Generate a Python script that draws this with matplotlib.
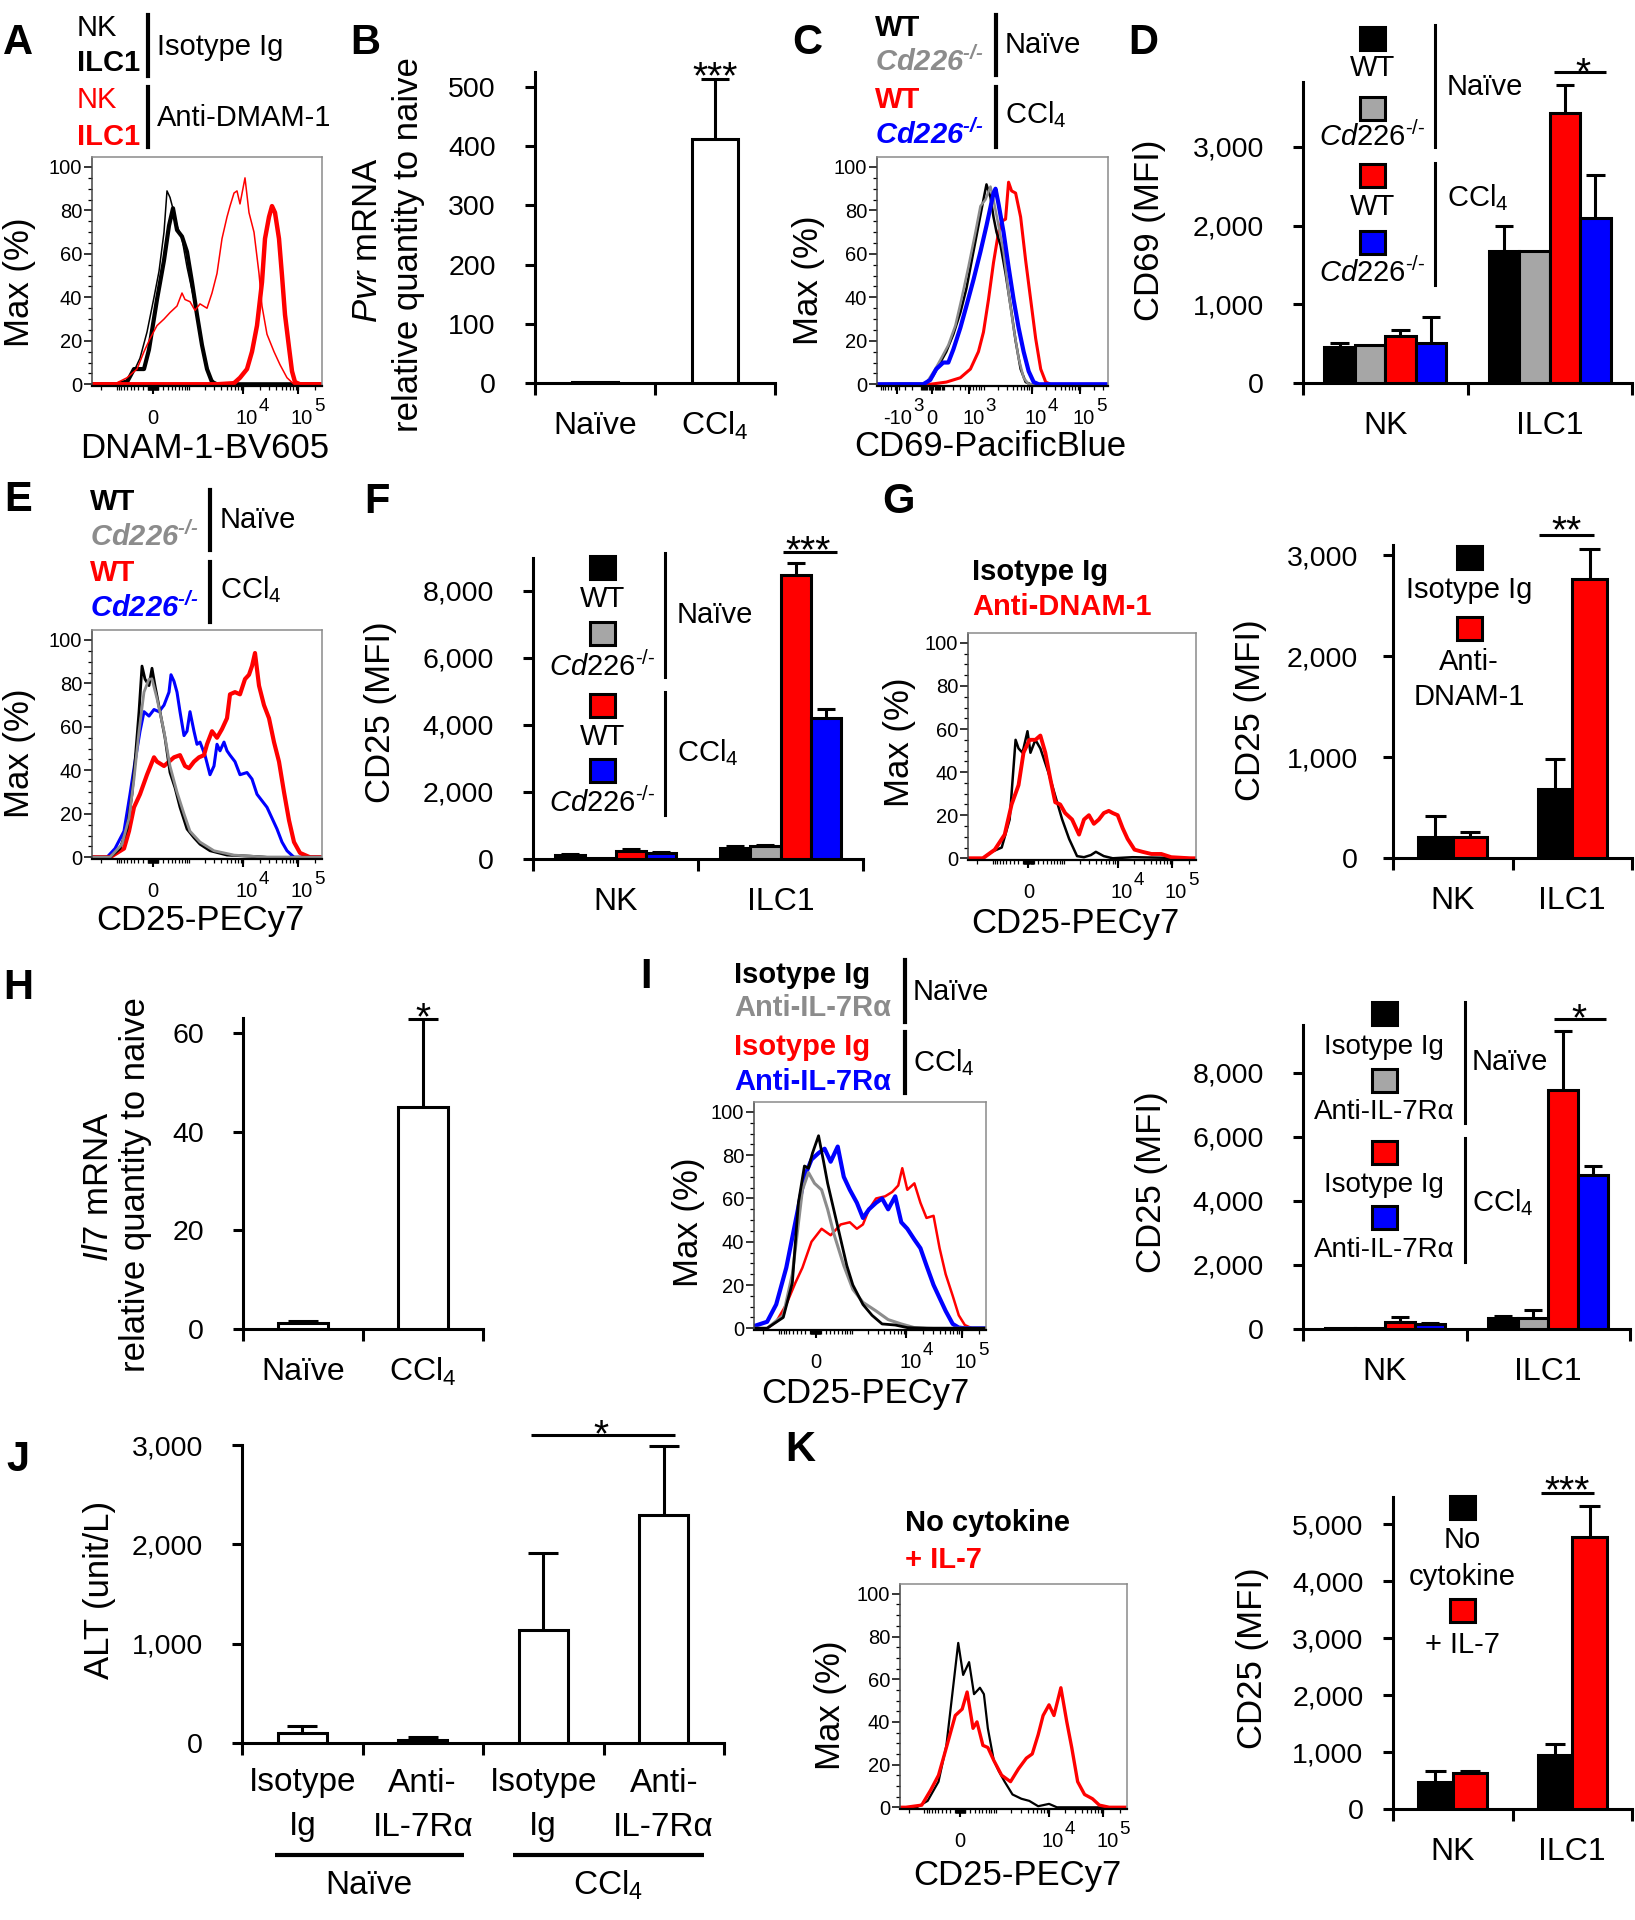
"""
Figure: DNAM-1 / IL-7 driven CD25 expression on liver ILC1 (panels A-K).
Histograms are drawn on a logicle-like display axis (channel 0-230),
bar charts are mean + SEM.
"""
import numpy as np
import matplotlib
matplotlib.use("Agg")
import matplotlib.pyplot as plt
from matplotlib.patches import Rectangle
from matplotlib.lines import Line2D
from matplotlib.ticker import MultipleLocator
from matplotlib.transforms import offset_copy

plt.rcParams.update({
    "font.family": "Liberation Sans",
    "mathtext.fontset": "custom",
    "mathtext.rm": "Liberation Sans",
    "mathtext.it": "Liberation Sans:italic",
    "mathtext.bf": "Liberation Sans:bold",
    "mathtext.bfit": "Liberation Sans:bold:italic",
})

W, H = 1635, 1920
RED, BLUE = "#ff0000", "#0000ff"
GRAY_BAR, GRAY_LINE = "#a6a6a6", "#8c8c8c"
CD226 = r"$\mathit{Cd226}^{\mathit{‐/‐}}$"
CD226_B = r"$\mathbfit{Cd226}^{\mathbfit{‐/‐}}$"
CCL4 = "CCl$_4$"

# ------------------------------------------------------------------
# Histogram data (x = display channel, y = % of max)
# ------------------------------------------------------------------
STD_MAJOR = [61, 151, 206]
STD_LABELS = [("0", None), ("10", "4"), ("10", "5")]

A_X_NK_ISO = [0, 22, 35, 43, 48, 55, 62, 67, 72, 75, 78, 82, 85, 90, 95, 102, 108, 113, 118, 125, 230]
A_Y_NK_ISO = [0, 0, 2, 7, 12, 24, 40, 52, 70, 89, 86, 79, 73, 67, 54, 39, 24, 12, 3, 0, 0]
A_X_ILC1_ISO = [0, 25, 35, 42, 52, 57, 65, 72, 77, 81, 85, 90, 95, 100, 105, 110, 115, 120, 125, 230]
A_Y_ILC1_ISO = [0, 0, 1, 7, 7, 16, 39, 57, 73, 81, 71, 68, 61, 47, 32, 18, 7, 1, 0, 0]
A_X_NK_ANTI = [0, 22, 35, 45, 52, 58, 65, 72, 78, 85, 90, 93, 98, 103, 108, 115, 120, 125, 130,
               135, 138, 142, 145, 148, 153, 157, 162, 167, 170, 175, 182, 188, 195, 202, 230]
A_Y_NK_ANTI = [0, 0, 3, 7, 15, 21, 27, 30, 33, 36, 42, 39, 38, 34, 37, 35, 42, 51, 67,
               77, 82, 88, 89, 83, 95, 79, 70, 51, 36, 23, 15, 9, 3, 0, 0]
A_X_ILC1_ANTI = [0, 125, 142, 148, 155, 160, 165, 170, 173, 177, 180, 183, 187, 190, 193, 197, 200, 203, 208, 230]
A_Y_ILC1_ANTI = [0, 0, 0.5, 3, 7, 15, 27, 47, 67, 77, 82, 79, 67, 50, 32, 17, 6, 1, 0, 0]

C_MAJOR = [20, 55, 92, 154, 202]
C_LABELS = [("-10", "3"), ("0", None), ("10", "3"), ("10", "4"), ("10", "5")]
C_X_WT_N = [0, 49, 56, 63, 69, 76, 83, 89, 96, 101, 106, 109, 113, 116, 119, 123, 128, 133, 138, 143, 148, 153, 230]
C_Y_WT_N = [0, 0.5, 4, 10, 15, 23, 33, 44, 61, 73, 85, 92, 86, 77, 70, 64, 51, 36, 20, 7, 1, 0, 0]
C_X_KO_N = [0, 49, 58, 64, 71, 78, 84, 91, 98, 103, 108, 113, 116, 121, 126, 131, 136, 141, 146, 151, 230]
C_Y_KO_N = [0, 0.5, 7, 12, 18, 27, 39, 54, 70, 82, 85, 91, 85, 73, 61, 42, 26, 12, 3, 0, 0]
C_X_KO_C = [0, 46, 53, 59, 66, 71, 76, 83, 89, 96, 103, 109, 116, 118, 121, 126, 131, 136, 141, 146, 151, 156, 161, 230]
C_Y_KO_C = [0, 0, 2, 7, 10, 10, 16, 26, 36, 48, 61, 73, 88, 90, 83, 70, 54, 39, 26, 15, 6, 1, 0, 0]
C_X_WT_C = [0, 53, 69, 83, 93, 101, 106, 111, 116, 121, 124, 128, 131, 134, 138, 143, 148, 153, 158, 163, 168, 173, 230]
C_Y_WT_C = [0, 0, 1, 3, 7, 15, 24, 39, 56, 70, 75, 76, 93, 89, 88, 77, 57, 39, 21, 7, 1, 0, 0]

E_X_WT_N = [0, 18, 28, 35, 40, 43, 47, 50, 53, 57, 60, 63, 68, 73, 78, 83, 88, 95, 102, 108, 118, 135, 158, 175, 230]
E_Y_WT_N = [0, 0, 4, 13, 29, 44, 67, 88, 82, 79, 87, 79, 67, 55, 39, 32, 23, 13, 9, 6, 3, 1, 0.5, 0, 0]
E_X_KO_N = [0, 18, 30, 37, 42, 47, 52, 57, 60, 65, 72, 78, 85, 92, 98, 108, 122, 142, 175, 230]
E_Y_KO_N = [0, 0, 6, 18, 36, 58, 76, 82, 82, 73, 58, 42, 30, 20, 12, 7, 3, 1, 0, 0]
E_X_KO_C = [0, 15, 23, 32, 38, 43, 48, 52, 57, 62, 67, 72, 77, 79, 82, 85, 88, 92, 95, 98, 102, 105,
            108, 113, 118, 122, 125, 128, 132, 135, 138, 143, 148, 155, 160, 165, 170, 175, 180, 185,
            190, 195, 202, 230]
E_Y_KO_C = [0, 0, 4, 12, 29, 44, 58, 67, 65, 68, 67, 70, 76, 84, 81, 76, 67, 56, 58, 67, 58, 52,
            53, 47, 38, 42, 52, 49, 53, 49, 47, 44, 38, 39, 36, 29, 26, 23, 18, 13,
            7, 3, 0, 0]
E_X_WT_C = [0, 18, 32, 37, 42, 48, 55, 62, 65, 72, 77, 82, 88, 93, 97, 102, 107, 112, 115, 120, 125,
            130, 135, 138, 143, 148, 153, 157, 160, 163, 167, 172, 177, 182, 187, 192, 197, 202, 208,
            218, 230]
E_Y_WT_C = [0, 0, 4, 12, 23, 29, 38, 46, 44, 42, 44, 46, 47, 42, 41, 44, 46, 47, 52, 58, 55,
            59, 64, 75, 76, 75, 82, 84, 88, 94, 79, 70, 64, 53, 44, 30, 17, 7, 2,
            0, 0]

G_X_ISO = [0, 15, 24, 34, 42, 48, 51, 55, 60, 63, 68, 73, 81, 88, 95, 102, 110, 117, 124, 129, 137, 146, 166, 228]
G_Y_ISO = [0, 0, 3, 5, 18, 55, 51, 49, 59, 49, 55, 51, 40, 29, 18, 9, 1, 0.5, 1.5, 3, 1, 0, 0.5, 0]
G_X_ANTI = [0, 15, 27, 37, 44, 51, 56, 62, 68, 73, 78, 83, 88, 93, 98, 105, 112, 117, 122, 127, 132,
            137, 142, 146, 151, 156, 161, 168, 176, 185, 195, 205, 224, 228]
G_Y_ANTI = [0, 0, 4, 11, 25, 34, 49, 55, 55, 57, 49, 37, 26, 25, 21, 18, 11, 18, 20, 16, 18,
            21, 22, 21, 20, 14, 9, 4, 3, 2, 2, 0.5, 0, 0]

I_X_ISO_N = [0, 13, 29, 38, 44, 50, 54, 58, 64, 69, 73, 79, 86, 92, 98, 108, 117, 127, 140, 152, 171, 231]
I_Y_ISO_N = [0, 0, 5, 21, 58, 75, 74, 81, 89, 77, 67, 55, 41, 29, 20, 11, 6, 2, 1.5, 0.3, 0, 0]
I_X_ANTI_N = [0, 13, 29, 38, 48, 54, 60, 67, 73, 79, 89, 98, 108, 121, 133, 146, 159, 178, 231]
I_Y_ANTI_N = [0, 0, 6, 25, 64, 72, 67, 64, 55, 44, 29, 18, 12, 8, 4, 2, 0.3, 0, 0]
I_X_ANTI_C = [0, 13, 22, 32, 41, 50, 57, 64, 70, 76, 83, 89, 95, 102, 108, 114, 121, 127, 133, 140,
              146, 152, 159, 165, 171, 178, 184, 190, 197, 203, 209, 231]
I_Y_ANTI_C = [1, 3, 11, 28, 49, 70, 78, 81, 83, 77, 84, 70, 64, 58, 51, 55, 58, 60, 55, 61,
              49, 46, 41, 37, 29, 20, 14, 8, 2, 0.3, 0, 0]
I_X_ISO_C = [0, 13, 22, 32, 41, 48, 57, 67, 76, 86, 95, 102, 108, 114, 121, 130, 137, 143, 147, 152,
             159, 165, 171, 178, 184, 190, 197, 203, 209, 216, 231]
I_Y_ISO_C = [0, 0, 3, 11, 21, 28, 40, 46, 43, 48, 49, 46, 48, 55, 60, 61, 63, 66, 74, 64,
             67, 58, 51, 52, 37, 25, 15, 6, 1.5, 0, 0]

K_X_NONE = [0, 17, 28, 39, 47, 53, 59, 64, 70, 75, 81, 85, 89, 95, 100, 106, 114, 123, 131, 140, 151, 159, 184, 228]
K_Y_NONE = [0, 0, 3, 12, 29, 53, 77, 62, 68, 53, 56, 53, 37, 22, 17, 12, 6, 4, 3, 0.5, 1.6, 0, 0, 0]
K_X_IL7 = [0, 6, 22, 31, 39, 47, 56, 63, 68, 74, 78, 84, 89, 95, 103, 112, 120, 128, 134, 140, 145,
           151, 156, 163, 169, 174, 180, 187, 195, 202, 212, 228]
K_Y_IL7 = [0, 0, 1, 8, 15, 28, 43, 46, 54, 37, 40, 29, 28, 22, 15, 12, 18, 23, 25, 34, 43,
           48, 43, 56, 40, 28, 12, 6, 4, 1, 0, 0]

# ------------------------------------------------------------------
# Bar chart data (mean, SEM)
# ------------------------------------------------------------------
B_CATS = ["Naïve", CCL4]
B_MEAN = [1, 412]
B_SEM = [0, 101]

CELLS = ["NK", "ILC1"]
D_MEAN = [[457, 1677], [483, 1677], [597, 3431], [508, 2097]]
D_SEM = [[55, 318], [0, 0], [76, 356], [331, 546]]

F_MEAN = [[110, 328], [15, 388], [250, 8478], [180, 4209]]
F_SEM = [[40, 60], [0, 30], [50, 358], [40, 269]]

G_MEAN = [[208, 683], [208, 2762]]
G_SEM = [[208, 297], [49, 297]]

H_CATS = ["Naïve", CCL4]
H_MEAN = [1.2, 45]
H_SEM = [0.4, 17.9]

I_MEAN = [[40, 344], [40, 344], [219, 7469], [156, 4813]]
I_SEM = [[0, 62], [0, 250], [156, 1844], [30, 281]]

J_CATS = [("Isotype", "Ig"), ("Anti-", "IL-7Rα"), ("Isotype", "Ig"), ("Anti-", "IL-7Rα")]
J_MEAN = [101, 30, 1138, 2296]
J_SEM = [70, 30, 775, 694]

K_MEAN = [[474, 947], [632, 4772]]
K_SEM = [[193, 193], [35, 544]]

# ------------------------------------------------------------------
fig = plt.figure(figsize=(W / 100, H / 100), dpi=100)


def axes_px(x0, y0, x1, y1):
    return fig.add_axes([x0 / W, 1 - y1 / H, (x1 - x0) / W, (y1 - y0) / H])


def T(x, y, s, size, ha="center", va="center", **kw):
    fig.text(x / W, 1 - y / H, s, fontsize=size, ha=ha, va=va, **kw)


def vbar(x, y0, y1, lw=2.2):
    fig.add_artist(Line2D([x / W, x / W], [1 - y0 / H, 1 - y1 / H], color="black",
                          lw=lw, transform=fig.transFigure))


def swatch(cx, cy, color):
    fig.add_artist(Rectangle(((cx - 12.5) / W, 1 - (cy + 11.5) / H), 25 / W, 23 / H,
                             facecolor=color, edgecolor="black", lw=2.2,
                             transform=fig.transFigure))


def logicle_ch(v, c0, dec, w):
    return c0 + dec * np.arcsinh(np.asarray(v, float) / w) / np.log(10)


MINOR_VALS = [s * k * 10 ** d for s in (-1, 1) for d in range(1, 6) for k in range(1, 10)]


def hist_panel(box, curves, majors, labels, c0=61, dec=55, w=460):
    ax = axes_px(*box)
    for xs, ys, col, lw in curves:
        ax.plot(xs, ys, color=col, lw=lw, solid_joinstyle="round")
    ax.set_xlim(0, 230)
    ax.set_ylim(-0.8, 104.6)
    for s in ("top", "right"):
        ax.spines[s].set_color("#8a8a8a")
        ax.spines[s].set_linewidth(1.1)
    ax.spines["left"].set_color("#444444")
    ax.spines["left"].set_linewidth(1.1)
    ax.spines["bottom"].set_linewidth(1.6)
    ax.set_yticks(range(0, 101, 20))
    ax.yaxis.set_minor_locator(MultipleLocator(5))
    ax.tick_params(axis="y", which="major", length=5.5, width=1.1, labelsize=14.5, pad=1.5)
    ax.tick_params(axis="y", which="minor", length=3, width=0.9)
    minors = [m for m in logicle_ch(MINOR_VALS, c0, dec, w) if 1 < m < 229]
    ax.set_xticks(majors)
    ax.set_xticklabels([])
    ax.set_xticks(minors, minor=True)
    ax.tick_params(axis="x", which="major", length=5.5, width=1.5)
    ax.tick_params(axis="x", which="minor", length=3, width=0.9)
    xt = ax.get_xaxis_transform()
    base_tr = offset_copy(xt, fig=fig, y=-38, units="dots")
    for p, (base, exp) in zip(majors, labels):
        if exp is None:
            ax.text(p, 0, base, transform=base_tr, ha="center", va="baseline", fontsize=14.5)
        else:
            ax.text(p, 0, base, transform=offset_copy(xt, fig=fig, x=15, y=-38, units="dots"),
                    ha="right", va="baseline", fontsize=14.5)
            ax.text(p, 0, exp, transform=offset_copy(xt, fig=fig, x=16, y=-25, units="dots"),
                    ha="left", va="baseline", fontsize=13.5)
    return ax


def bar_panel(box, ymax, yticks, cats, means, sems, colors, width, pad=21, cap=0.6):
    ax = axes_px(*box)
    centers = np.arange(len(means[0])) + 0.5
    n = len(means)
    for j in range(n):
        xs = centers + (j - (n - 1) / 2) * width
        vals = np.asarray(means[j], float)
        errs = np.asarray(sems[j], float)
        m = errs > 0
        ax.vlines(xs[m], vals[m], vals[m] + errs[m], color="black", lw=2.2, zorder=2, clip_on=False)
        ax.hlines(vals[m] + errs[m], xs[m] - cap * width / 2, xs[m] + cap * width / 2,
                  color="black", lw=2.2, zorder=2, clip_on=False)
        ax.bar(xs, vals, width=width, color=colors[j], edgecolor="black", linewidth=2.2, zorder=3)
    ax.set_xlim(0, len(centers))
    ax.set_ylim(0, ymax)
    for s in ("top", "right"):
        ax.spines[s].set_visible(False)
    for s in ("left", "bottom"):
        ax.spines[s].set_linewidth(2.2)
    ax.set_xticks(np.arange(len(centers) + 1))
    ax.set_xticklabels([])
    ax.tick_params(axis="x", direction="out", length=8.6, width=2.2)
    ax.set_yticks(yticks)
    ax.set_yticklabels([f"{v:,}" for v in yticks])
    ax.tick_params(axis="y", direction="out", length=7.2, width=2.2, labelsize=20.5, pad=pad)
    if cats is not None:
        tr = offset_copy(ax.get_xaxis_transform(), fig=fig, y=-43, units="dots")
        for c, lab in zip(centers, cats):
            ax.text(c, 0, lab, transform=tr, ha="center", va="center", fontsize=23)
    return ax


def sig(ax, stars, sx, sy, line=None, size=28):
    if line is not None:
        x0, x1, ly = line
        ax.plot([x0, x1], [ly, ly], color="black", lw=2.2, clip_on=False, solid_capstyle="butt")
    tr = offset_copy(ax.transData, fig=fig, y=-22, units="dots")
    ax.text(sx, sy, stars, transform=tr, ha="center", va="baseline", fontsize=size, clip_on=False)


# ---------------- A ----------------
hist_panel((92, 157, 322, 386),
           [(A_X_NK_ISO, A_Y_NK_ISO, "black", 1.1), (A_X_ILC1_ISO, A_Y_ILC1_ISO, "black", 3.0),
            (A_X_NK_ANTI, A_Y_NK_ANTI, RED, 1.1), (A_X_ILC1_ANTI, A_Y_ILC1_ANTI, RED, 3.2)],
           STD_MAJOR, STD_LABELS)
T(18, 43, "A", 30, weight="bold")
T(77, 28, "NK", 21, ha="left")
T(77, 63, "ILC1", 21, ha="left", weight="bold")
vbar(148, 15, 76, 3)
T(157, 47, "Isotype Ig", 21, ha="left")
T(77, 100, "NK", 21, ha="left", color=RED)
T(77, 137, "ILC1", 21, ha="left", weight="bold", color=RED)
vbar(148, 87, 147, 3)
T(157, 118, "Anti-DMAM-1", 21, ha="left")
T(19, 282, "Max (%)", 25, rotation=90)
T(205, 448, "DNAM-1-BV605", 25)

# ---------------- B ----------------
axB = bar_panel((535, 72, 775, 383), 525, [0, 100, 200, 300, 400, 500], B_CATS,
                [B_MEAN], [B_SEM], ["white"], 0.39)
sig(axB, "***", 1.5, 534)
T(365, 43, "B", 30, weight="bold")
T(367, 240, r"$\mathit{Pvr}$ mRNA", 25, rotation=90)
T(408, 245, "relative quantity to naive", 25, rotation=90)

# ---------------- C ----------------
hist_panel((877, 157, 1108, 386),
           [(C_X_WT_C, C_Y_WT_C, RED, 2.2), (C_X_WT_N, C_Y_WT_N, "black", 1.8),
            (C_X_KO_N, C_Y_KO_N, GRAY_LINE, 1.8), (C_X_KO_C, C_Y_KO_C, BLUE, 3.0)],
           C_MAJOR, C_LABELS, c0=55, dec=48, w=173)
T(807, 43, "C", 30, weight="bold")
T(875, 28, "WT", 21, ha="left", weight="bold")
T(875, 62, CD226_B, 21, ha="left", color=GRAY_LINE)
vbar(996, 15, 75, 3)
T(1005, 45, "Naïve", 21, ha="left")
T(875, 100, "WT", 21, ha="left", weight="bold", color=RED)
T(875, 135, CD226_B, 21, ha="left", color=BLUE)
vbar(996, 87, 147, 3)
T(1005, 115, CCL4, 21, ha="left")
T(808, 280, "Max (%)", 25, rotation=90)
T(990, 447, "CD69-PacificBlue", 25)

# ---------------- D ----------------
axD = bar_panel((1303, 82, 1632, 383), 3825, [0, 1000, 2000, 3000], CELLS,
                D_MEAN, D_SEM, ["black", GRAY_BAR, RED, BLUE], 0.185)
sig(axD, "*", 1.70, 4079, line=(1.528, 1.84, 3952))
T(1143, 43, "D", 30, weight="bold")
for cy, col in zip([38, 108, 175, 242], ["black", GRAY_BAR, RED, BLUE]):
    swatch(1372, cy, col)
for cy, lab in zip([68, 137, 207, 273], ["WT", CD226, "WT", CD226]):
    T(1372, cy, lab, 21)
vbar(1435, 25, 147)
vbar(1435, 163, 285)
T(1447, 87, "Naïve", 21, ha="left")
T(1447, 198, CCL4, 21, ha="left")
T(1150, 230, "CD69 (MFI)", 25, rotation=90)

# ---------------- E ----------------
hist_panel((92, 630, 322, 859),
           [(E_X_KO_C, E_Y_KO_C, BLUE, 2.2), (E_X_WT_C, E_Y_WT_C, RED, 3.0),
            (E_X_WT_N, E_Y_WT_N, "black", 2.0), (E_X_KO_N, E_Y_KO_N, GRAY_LINE, 2.0)],
           STD_MAJOR, STD_LABELS)
T(18, 500, "E", 30, weight="bold")
T(90, 502, "WT", 21, ha="left", weight="bold")
T(90, 537, CD226_B, 21, ha="left", color=GRAY_LINE)
vbar(210, 490, 550, 3)
T(220, 520, "Naïve", 21, ha="left")
T(90, 573, "WT", 21, ha="left", weight="bold", color=RED)
T(90, 608, CD226_B, 21, ha="left", color=BLUE)
vbar(210, 562, 622, 3)
T(220, 590, CCL4, 21, ha="left")
T(20, 753, "Max (%)", 25, rotation=90)
T(200, 920, "CD25-PECy7", 25)

# ---------------- F ----------------
axF = bar_panel((533, 558, 863, 859), 8985, [0, 2000, 4000, 6000, 8000], CELLS,
                F_MEAN, F_SEM, ["black", GRAY_BAR, RED, BLUE], 0.182)
sig(axF, "***", 1.67, 9522, line=(1.515, 1.842, 9164))
T(377, 502, "F", 30, weight="bold")
for cy, col in zip([567, 633, 705, 771], ["black", GRAY_BAR, RED, BLUE]):
    swatch(602, cy, col)
for cy, lab in zip([599, 667, 737, 803], ["WT", CD226, "WT", CD226]):
    T(602, cy, lab, 21)
vbar(665, 553, 677)
vbar(665, 692, 815)
T(677, 615, "Naïve", 21, ha="left")
T(677, 753, CCL4, 21, ha="left")
T(380, 712, "CD25 (MFI)", 25, rotation=90)

# ---------------- G ----------------
hist_panel((968, 633, 1196, 860),
           [(G_X_ISO, G_Y_ISO, "black", 1.8), (G_X_ANTI, G_Y_ANTI, RED, 2.8)],
           STD_MAJOR, STD_LABELS)
T(898, 502, "G", 30, weight="bold")
T(972, 572, "Isotype Ig", 21, ha="left", weight="bold")
T(972, 607, "Anti-DNAM-1", 21, ha="left", weight="bold", color=RED)
T(899, 742, "Max (%)", 25, rotation=90)
T(1075, 923, "CD25-PECy7", 25)

axG = bar_panel((1393, 545, 1632, 858), 3100, [0, 1000, 2000, 3000], CELLS,
                G_MEAN, G_SEM, ["black", RED], 0.29, pad=18)
sig(axG, "**", 1.456, 3347, line=(1.22, 1.68, 3198))
swatch(1469, 557, "black")
T(1469, 590, "Isotype Ig", 21)
swatch(1469, 628, RED)
T(1469, 662, "Anti-", 21)
T(1469, 697, "DNAM-1", 21)
T(1250, 710, "CD25 (MFI)", 25, rotation=90)

# ---------------- H ----------------
axH = bar_panel((243, 1018, 483, 1329), 63.1, [0, 20, 40, 60], H_CATS,
                [H_MEAN], [H_SEM], ["white"], 0.41)
sig(axH, "*", 1.5, 65.3)
T(18, 988, "H", 30, weight="bold")
T(98, 1187, r"$\mathit{Il7}$ mRNA", 25, rotation=90)
T(135, 1185, "relative quantity to naive", 25, rotation=90)

# ---------------- I ----------------
hist_panel((754, 1102, 986, 1330),
           [(I_X_ISO_C, I_Y_ISO_C, RED, 1.8), (I_X_ANTI_C, I_Y_ANTI_C, BLUE, 3.0),
            (I_X_ANTI_N, I_Y_ANTI_N, GRAY_LINE, 2.2), (I_X_ISO_N, I_Y_ISO_N, "black", 2.0)],
           STD_MAJOR, STD_LABELS)
T(646, 977, "I", 30, weight="bold")
T(734, 975, "Isotype Ig", 21, ha="left", weight="bold")
T(734, 1008, "Anti-IL-7Rα", 21, ha="left", weight="bold", color=GRAY_LINE)
vbar(905, 960, 1022, 3)
T(913, 992, "Naïve", 21, ha="left")
T(734, 1047, "Isotype Ig", 21, ha="left", weight="bold", color=RED)
T(734, 1082, "Anti-IL-7Rα", 21, ha="left", weight="bold", color=BLUE)
vbar(905, 1032, 1093, 3)
T(913, 1063, CCL4, 21, ha="left")
T(688, 1222, "Max (%)", 25, rotation=90)
T(865, 1393, "CD25-PECy7", 25)

axI = bar_panel((1303, 1025, 1630, 1329), 9500, [0, 2000, 4000, 6000, 8000], CELLS,
                I_MEAN, I_SEM, ["black", GRAY_BAR, RED, BLUE], 0.183)
sig(axI, "*", 1.69, 10031, line=(1.535, 1.853, 9688))
for cy, col in zip([1013, 1080, 1152, 1217], ["black", GRAY_BAR, RED, BLUE]):
    swatch(1384, cy, col)
for cy, lab in zip([1047, 1112, 1185, 1250], ["Isotype Ig", "Anti-IL-7Rα", "Isotype Ig", "Anti-IL-7Rα"]):
    T(1384, cy, lab, 20)
vbar(1465, 1002, 1123)
vbar(1465, 1138, 1262)
T(1472, 1062, "Naïve", 21, ha="left")
T(1472, 1203, CCL4, 21, ha="left")
T(1151, 1182, "CD25 (MFI)", 25, rotation=90)

# ---------------- J ----------------
axJ = bar_panel((242, 1445, 724, 1743), 3001, [0, 1000, 2000, 3000], None,
                [J_MEAN], [J_SEM], ["white"], 0.41)
sig(axJ, "*", 2.98, 3212, line=(2.40, 3.59, 3102))
xt = axJ.get_xaxis_transform()
for i, (l1, l2) in enumerate(J_CATS):
    axJ.text(i + 0.5, 0, l1, transform=offset_copy(xt, fig=fig, y=-40, units="dots"),
             ha="center", va="center", fontsize=24)
    axJ.text(i + 0.5, 0, l2, transform=offset_copy(xt, fig=fig, y=-84, units="dots"),
             ha="center", va="center", fontsize=24)
for (x0, x1), lab in zip([(0.27, 1.84), (2.25, 3.83)], ["Naïve", CCL4]):
    axJ.plot([x0, x1], [0, 0], transform=offset_copy(xt, fig=fig, y=-112, units="dots"),
             color="black", lw=3, clip_on=False, solid_capstyle="butt")
    axJ.text((x0 + x1) / 2, 0, lab, transform=offset_copy(xt, fig=fig, y=-142, units="dots"),
             ha="center", va="center", fontsize=24)
T(18, 1460, "J", 30, weight="bold")
T(99, 1590, "ALT (unit/L)", 25, rotation=90)

# ---------------- K ----------------
hist_panel((900, 1584, 1127, 1809),
           [(K_X_NONE, K_Y_NONE, "black", 1.6), (K_X_IL7, K_Y_IL7, RED, 2.4)],
           STD_MAJOR, STD_LABELS)
T(800, 1450, "K", 30, weight="bold")
T(905, 1523, "No cytokine", 21, ha="left", weight="bold")
T(905, 1560, "+ IL-7", 21, ha="left", weight="bold", color=RED)
T(830, 1705, "Max (%)", 25, rotation=90)
T(1017, 1875, "CD25-PECy7", 25)

axK = bar_panel((1393, 1497, 1632, 1809), 5474, [0, 1000, 2000, 3000, 4000, 5000], CELLS,
                K_MEAN, K_SEM, ["black", RED], 0.29, pad=14)
sig(axK, "***", 1.456, 5772, line=(1.238, 1.682, 5544))
swatch(1462, 1507, "black")
T(1462, 1540, "No", 21)
T(1462, 1577, "cytokine", 21)
swatch(1462, 1610, RED)
T(1462, 1645, "+ IL-7", 21)
T(1252, 1658, "CD25 (MFI)", 25, rotation=90)

fig.savefig("out.png", dpi=100)
